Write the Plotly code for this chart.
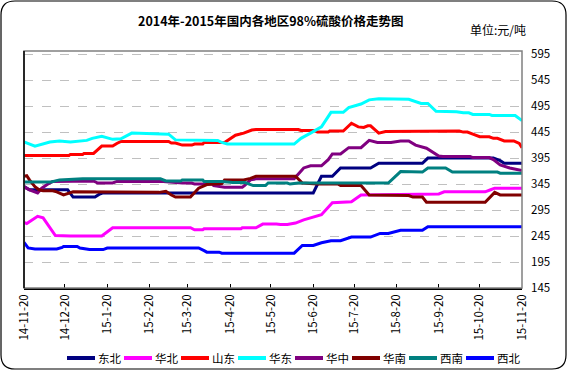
import plotly.graph_objects as go

# ---------------- data ----------------
names = ["东北", "华北", "山东", "华东", "华中", "华南", "西南", "西北"]
colors = ["#000080", "#FF00FF", "#FF0000", "#00FFFF", "#800080", "#800000", "#008080", "#0000FF"]

dongbei_dates = ["2014-11-20", "2014-11-24", "2014-12-22", "2014-12-24", "2014-12-26", "2015-01-11", "2015-01-14",
                 "2015-01-17", "2015-06-20", "2015-06-26", "2015-07-04", "2015-07-10", "2015-08-01", "2015-08-07",
                 "2015-09-08", "2015-09-12", "2015-10-30", "2015-11-04", "2015-11-07", "2015-11-20"]
dongbei_vals = [340, 334, 334, 328, 320, 320, 325, 328, 328, 360, 360, 376, 376, 385, 385, 395, 395, 390, 385, 385]

huabei_dates = ["2014-11-20", "2014-11-22", "2014-11-30", "2014-12-04", "2014-12-13", "2014-12-24", "2015-01-16",
                "2015-01-24", "2015-03-22", "2015-03-25", "2015-03-31", "2015-04-01", "2015-04-28", "2015-04-29",
                "2015-05-09", "2015-05-14", "2015-05-24", "2015-05-27", "2015-06-01", "2015-06-07", "2015-06-13",
                "2015-06-18", "2015-06-26", "2015-07-04", "2015-07-18", "2015-07-25", "2015-09-20", "2015-09-24",
                "2015-10-24", "2015-10-28", "2015-10-31", "2015-11-20"]
huabei_vals = [271, 269, 283, 280, 246, 245, 245, 261, 261, 257, 257, 259, 259, 261, 261, 268, 268, 267, 267, 270,
               276, 280, 286, 309, 311, 324, 326, 330, 330, 334, 337, 337]

shandong_dates = ["2014-11-20", "2014-12-23", "2014-12-24", "2015-01-02", "2015-01-03", "2015-01-10", "2015-01-16",
                  "2015-01-24", "2015-01-27", "2015-01-30", "2015-03-06", "2015-03-08", "2015-03-11", "2015-03-16",
                  "2015-03-23", "2015-03-25", "2015-03-31", "2015-04-01", "2015-04-16", "2015-04-24", "2015-04-30",
                  "2015-05-06", "2015-05-09", "2015-06-09", "2015-06-11", "2015-06-21", "2015-06-23", "2015-07-01",
                  "2015-07-02", "2015-07-12", "2015-07-18", "2015-07-23", "2015-07-27", "2015-07-30", "2015-08-01",
                  "2015-08-07", "2015-08-12", "2015-10-05", "2015-10-08", "2015-10-11", "2015-10-15", "2015-10-20",
                  "2015-10-27", "2015-10-30", "2015-11-02", "2015-11-07", "2015-11-14", "2015-11-18", "2015-11-20"]
shandong_vals = [400, 400, 402, 402, 404, 404, 418, 418, 423, 427, 427, 424, 424, 420, 420, 422, 422, 425, 425, 439,
                 443, 449, 450, 450, 448, 448, 445, 445, 447, 447, 462, 455, 454, 457, 457, 443, 446, 447, 445, 445,
                 441, 436, 436, 433, 433, 428, 428, 423, 415]

huadong_dates = ["2014-11-20", "2014-11-28", "2014-12-09", "2014-12-16", "2014-12-24", "2015-01-05", "2015-01-09",
                 "2015-01-16", "2015-01-24", "2015-01-30", "2015-02-07", "2015-02-20", "2015-03-06", "2015-03-11",
                 "2015-04-11", "2015-04-14", "2015-04-18", "2015-06-06", "2015-06-11", "2015-06-18", "2015-06-26",
                 "2015-07-03", "2015-07-12", "2015-07-16", "2015-07-25", "2015-07-31", "2015-08-07", "2015-08-29",
                 "2015-09-02", "2015-09-07", "2015-09-12", "2015-09-18", "2015-10-03", "2015-10-08", "2015-10-12",
                 "2015-10-15", "2015-10-27", "2015-10-29", "2015-11-15", "2015-11-18", "2015-11-20"]
huadong_vals = [426, 418, 426, 428, 426, 429, 433, 437, 431, 432, 443, 442, 441, 430, 429, 425, 422, 422, 433, 443,
                455, 483, 483, 492, 499, 507, 509, 508, 505, 500, 500, 485, 484, 482, 482, 479, 479, 477, 477, 471,
                467]

huazhong_dates = ["2014-11-20", "2014-11-24", "2014-11-30", "2014-12-03", "2014-12-07", "2014-12-11", "2015-01-10",
                  "2015-01-13", "2015-01-24", "2015-01-27", "2015-03-02", "2015-03-16", "2015-03-23", "2015-03-25",
                  "2015-04-07", "2015-04-08", "2015-04-16", "2015-04-29", "2015-05-01", "2015-05-05", "2015-05-09",
                  "2015-06-06", "2015-06-13", "2015-06-18", "2015-06-26", "2015-07-01", "2015-07-04", "2015-07-10",
                  "2015-07-16", "2015-07-25", "2015-07-31", "2015-08-06", "2015-08-16", "2015-08-23", "2015-08-29",
                  "2015-09-03", "2015-09-11", "2015-09-16", "2015-09-20", "2015-09-23", "2015-10-13", "2015-10-15",
                  "2015-10-27", "2015-10-30", "2015-11-04", "2015-11-11", "2015-11-20"]
huazhong_vals = [340, 334, 328, 337, 344, 350, 351, 347, 347, 350, 350, 347, 347, 345, 345, 342, 339, 339, 343, 353,
                 355, 355, 376, 380, 380, 392, 403, 403, 415, 415, 429, 425, 425, 428, 428, 420, 414, 406, 399, 398,
                 398, 396, 396, 392, 382, 376, 371]

huanan_dates = ["2014-11-20", "2014-11-22", "2014-11-24", "2014-11-28", "2014-12-01", "2014-12-04", "2014-12-11",
                "2014-12-14", "2014-12-19", "2014-12-24", "2014-12-26", "2015-02-27", "2015-03-04", "2015-03-08",
                "2015-03-11", "2015-03-22", "2015-03-28", "2015-04-03", "2015-04-14", "2015-04-16", "2015-04-30",
                "2015-05-05", "2015-05-09", "2015-06-07", "2015-06-12", "2015-06-23", "2015-07-08", "2015-07-10",
                "2015-07-25", "2015-07-31", "2015-08-23", "2015-08-29", "2015-09-01", "2015-09-08", "2015-09-11",
                "2015-10-24", "2015-10-31", "2015-11-04", "2015-11-20"]
huanan_vals = [360, 361, 353, 340, 334, 332, 332, 330, 324, 328, 330, 329, 331, 324, 320, 320, 337, 344, 346, 353,
               353, 356, 360, 360, 347, 345, 345, 342, 342, 324, 323, 323, 320, 320, 310, 310, 329, 324, 324]

xinan_dates = ["2014-11-20", "2014-12-10", "2014-12-16", "2015-01-02", "2015-02-28", "2015-03-04", "2015-03-15",
               "2015-03-16", "2015-03-31", "2015-04-01", "2015-04-14", "2015-04-22", "2015-05-01", "2015-05-03",
               "2015-05-07", "2015-05-16", "2015-05-18", "2015-06-01", "2015-06-03", "2015-06-09", "2015-08-14",
               "2015-08-23", "2015-09-08", "2015-09-12", "2015-09-25", "2015-09-30", "2015-11-02", "2015-11-04",
               "2015-11-20"]
xinan_vals = [349, 349, 353, 355, 355, 351, 351, 353, 353, 350, 350, 348, 348, 346, 342, 342, 347, 347, 345, 347, 347,
              369, 368, 376, 376, 368, 368, 366, 366]

xibei_dates = ["2014-11-20", "2014-11-23", "2014-11-28", "2014-12-14", "2014-12-18", "2014-12-19", "2014-12-29",
               "2014-12-31", "2015-01-07", "2015-01-17", "2015-01-20", "2015-03-28", "2015-04-01", "2015-04-03",
               "2015-04-12", "2015-04-14", "2015-06-06", "2015-06-12", "2015-06-20", "2015-06-26", "2015-07-03",
               "2015-07-10", "2015-07-18", "2015-08-01", "2015-08-08", "2015-08-14", "2015-08-23", "2015-09-08",
               "2015-09-12", "2015-11-20"]
xibei_vals = [233, 222, 220, 220, 223, 225, 225, 222, 219, 219, 222, 222, 217, 214, 214, 212, 212, 227, 227, 232, 236,
              236, 243, 243, 250, 250, 256, 256, 263, 263]

series_dates = [dongbei_dates, huabei_dates, shandong_dates, huadong_dates, huazhong_dates, huanan_dates,
                xinan_dates, xibei_dates]
series_vals = [dongbei_vals, huabei_vals, shandong_vals, huadong_vals, huazhong_vals, huanan_vals, xinan_vals,
               xibei_vals]

x_tick_vals = ["2014-11-20", "2014-12-20", "2015-01-20", "2015-02-20", "2015-03-20", "2015-04-20", "2015-05-20",
               "2015-06-20", "2015-07-20", "2015-08-20", "2015-09-20", "2015-10-20", "2015-11-20"]
x_tick_text = ["14-11-20", "14-12-20", "15-1-20", "15-2-20", "15-3-20", "15-4-20", "15-5-20", "15-6-20", "15-7-20",
               "15-8-20", "15-9-20", "15-10-20", "15-11-20"]
y_ticks = [145, 195, 245, 295, 345, 395, 445, 495, 545, 595]

title_text = "2014年-2015年国内各地区98%硫酸价格走势图"
unit_text = "单位:元/吨"

# ---------------- figure ----------------
W, H = 567, 371
ML, MR, MT, MB = 24, 45, 51, 83
PW, PH = W - ML - MR, H - MT - MB
FONT = "Noto Sans CJK SC, DejaVu Sans, sans-serif"


def px2paper(px, py):
    return (px - ML) / PW, (H - MB - py) / PH


fig = go.Figure()
for n, c, d, v in zip(names, colors, series_dates, series_vals):
    fig.add_trace(go.Scatter(x=d, y=v, name=n, mode="lines",
                             line=dict(color=c, width=3), showlegend=False))

# outer rounded frame
x0, y0, x1, y1, r = 1, 1, 566, 369, 14


def P(px, py):
    a, b = px2paper(px, py)
    return f"{a:.5f},{b:.5f}"


path = (f"M {P(x0 + r, y0)} L {P(x1 - r, y0)} Q {P(x1, y0)} {P(x1, y0 + r)} "
        f"L {P(x1, y1 - r)} Q {P(x1, y1)} {P(x1 - r, y1)} "
        f"L {P(x0 + r, y1)} Q {P(x0, y1)} {P(x0, y1 - r)} "
        f"L {P(x0, y0 + r)} Q {P(x0, y0)} {P(x0 + r, y0)} Z")
shapes = [
    dict(type="path", xref="paper", yref="paper", path=path, line=dict(color="black", width=1.2)),
    dict(type="rect", xref="paper", yref="paper", x0=0, y0=0, x1=1, y1=1, line=dict(color="#808080", width=1.5)),
    dict(type="line", xref="paper", yref="paper", x0=0, y0=0, x1=0, y1=1, line=dict(color="black", width=1.5)),
]

annotations = [
    dict(text=f"<b>{title_text}</b>", xref="paper", yref="paper",
         x=px2paper(270, 21)[0], y=px2paper(270, 21)[1], showarrow=False,
         xanchor="center", yanchor="middle", font=dict(size=12.5, family=FONT)),
    dict(text=unit_text, xref="paper", yref="paper",
         x=px2paper(498, 29)[0], y=px2paper(498, 29)[1], showarrow=False,
         xanchor="center", yanchor="middle", font=dict(size=12, family=FONT)),
]

# legend (drawn manually to match the compact spacing)
LEG_X0, LEG_PITCH, LEG_LINE, LEG_Y = 67, 57, 28, 358
for i, (n, c) in enumerate(zip(names, colors)):
    sx = LEG_X0 + i * LEG_PITCH
    a0, b0 = px2paper(sx, LEG_Y)
    a1, _ = px2paper(sx + LEG_LINE, LEG_Y)
    shapes.append(dict(type="line", xref="paper", yref="paper", x0=a0, x1=a1, y0=b0, y1=b0,
                       line=dict(color=c, width=4)))
    ta, tb = px2paper(sx + LEG_LINE + 1, LEG_Y)
    annotations.append(dict(text=n, xref="paper", yref="paper", x=ta, y=tb, showarrow=False,
                            xanchor="left", yanchor="middle", font=dict(size=11.5, family=FONT)))

fig.update_layout(
    width=W, height=H,
    margin=dict(l=ML, r=MR, t=MT, b=MB),
    paper_bgcolor="white", plot_bgcolor="white",
    font=dict(family=FONT, size=11, color="black"),
    showlegend=False,
    shapes=shapes,
    annotations=annotations,
)

fig.update_xaxes(
    type="date", range=["2014-11-20", "2015-11-20"],
    tickvals=x_tick_vals, ticktext=x_tick_text, tickangle=-90,
    ticks="inside", ticklen=4, tickcolor="black", tickwidth=1,
    showgrid=False, showline=True, linecolor="black", linewidth=1.5,
    zeroline=False, tickfont=dict(size=11.5),
)
fig.update_yaxes(
    side="right", range=[145, 601], tickvals=y_ticks,
    showgrid=True, gridcolor="#C0C0C0", griddash="dash", gridwidth=1,
    showline=False, zeroline=False, ticks="", ticklabelstandoff=8,
    tickfont=dict(size=11.5),
)

fig.write_html("out.html", config={"displayModeBar": False},
               post_script="document.body.style.margin='0';document.body.style.padding='0';")
